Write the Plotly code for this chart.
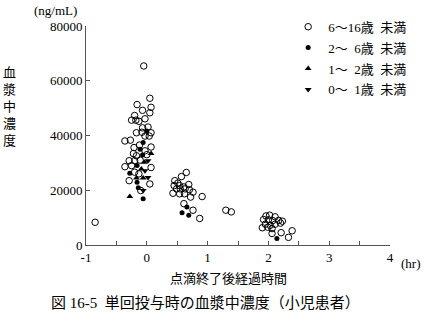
import plotly.graph_objects as go

# ---- data (hours after end of infusion, plasma concentration ng/mL) ----
g1_x = [-0.85, -0.05, 0.05, -0.16, 0.07, -0.07, 0.05, -0.20, -0.25, -0.18, -0.13, -0.03,
        0.02, -0.07, -0.17, -0.08, 0.07, -0.03, 0.04, -0.36, -0.27, 0.07, -0.21, -0.03,
        -0.22, -0.17, -0.29, -0.20, -0.11, -0.36, -0.25, 0.07, -0.20, -0.13, -0.29, 0.05,
        -0.10, -0.12, 0.00,
        0.65, 0.57, 0.46, 0.51, 0.45, 0.54, 0.61, 0.69, 0.49, 0.55, 0.63, 0.70, 0.43,
        0.54, 0.62, 0.76, 0.72, 0.91, 0.61, 0.76, 0.87, 1.30, 1.39,
        1.96, 2.02, 2.11, 1.92, 2.00, 2.07, 2.17, 2.23, 1.95, 2.03, 2.11, 2.20, 1.90,
        1.99, 2.06, 2.06, 2.21, 2.39, 2.33]
g1_y = [8300, 65400, 53600, 51300, 50300, 49200, 48300, 47300, 45600, 45600, 45200, 46100,
        43100, 42800, 41000, 41200, 41000, 39800, 39800, 38000, 38300, 35800, 35600, 34400,
        33400, 32600, 30800, 30800, 31000, 28600, 29000, 28300, 26600, 26000, 23500, 22300,
        19900, 36500, 33000,
        26500, 25000, 23500, 22600, 21700, 21700, 21200, 22100, 20500, 20500, 20500, 20200, 18900,
        18700, 18700, 19300, 17500, 17700, 15100, 12700, 9700, 12700, 12100,
        10600, 10900, 10300, 9300, 9200, 8900, 9000, 8700, 7600, 7200, 7600, 8000, 6300,
        6500, 6000, 4200, 4500, 5200, 2800]

g2_x = [0.00, -0.06, -0.11, -0.07, -0.16, -0.28, -0.16, -0.14, -0.06, 0.66, 0.58, 0.69, 2.14]
g2_y = [41600, 37400, 35000, 32900, 29000, 26200, 22900, 20900, 16900, 13900, 11800, 10900, 2400]

g3_x = [0.07, -0.04, -0.09, -0.17, -0.06, -0.28]
g3_y = [33400, 30200, 27800, 24500, 24500, 17700]

g4_x = [0.02, -0.03, 0.02, -0.06]
g4_y = [30800, 27100, 24700, 19900]

names = ["6～16歳  未満", "2～  6歳  未満", "1～  2歳  未満", "0～  1歳  未満"]
x_ticks = [-1, 0, 1, 2, 3, 4]
y_ticks = [0, 20000, 40000, 60000, 80000]

FONT = "Liberation Serif, DejaVu Serif, Noto Sans CJK JP"

fig = go.Figure()
fig.add_trace(go.Scatter(x=g1_x, y=g1_y, mode="markers", name=names[0], legendgroup="a",
                         marker=dict(symbol="circle-open", size=6.5, color="black",
                                     line=dict(width=1, color="black"))))
fig.add_trace(go.Scatter(x=g2_x, y=g2_y, mode="markers", name=names[1], legendgroup="b",
                         marker=dict(symbol="circle", size=5, color="black")))
fig.add_trace(go.Scatter(x=g3_x, y=g3_y, mode="markers", name=names[2], legendgroup="c",
                         marker=dict(symbol="triangle-up", size=6, color="black")))
fig.add_trace(go.Scatter(x=g4_x, y=g4_y, mode="markers", name=names[3], legendgroup="d",
                         marker=dict(symbol="triangle-down", size=6, color="black")))

axis_color = "#555555"
fig.update_layout(
    width=424, height=324,
    margin=dict(l=86, r=33, t=24, b=79),
    paper_bgcolor="white", plot_bgcolor="white",
    font=dict(family=FONT, size=13, color="black"),
    showlegend=True,
    legend=dict(x=0.665, y=1.065, xanchor="left", yanchor="top",
                bgcolor="rgba(0,0,0,0)", font=dict(size=13, family=FONT),
                tracegroupgap=1, itemsizing="trace"),
    xaxis=dict(range=[-1, 4], tickvals=x_ticks, ticktext=[str(v) for v in x_ticks],
               showgrid=False, zeroline=False, showline=True, linecolor=axis_color, linewidth=1,
               ticks="inside", ticklen=4, tickcolor=axis_color,
               minor=dict(dtick=0.5, ticks="inside", ticklen=4, tickcolor=axis_color, showgrid=False),
               tickfont=dict(size=13)),
    yaxis=dict(range=[0, 80000], tickvals=y_ticks, ticktext=[str(v) for v in y_ticks],
               showgrid=False, zeroline=False, showline=True, linecolor=axis_color, linewidth=1,
               ticks="inside", ticklen=4, tickcolor=axis_color, tickfont=dict(size=13)),
)

def px_x(p):
    return (p - 86) / 305

def px_y(p):
    return (245 - p) / 221

ann = [
    dict(text="(ng/mL)", x=px_x(55), y=px_y(8)),
    dict(text="(hr)", x=px_x(412), y=px_y(264)),
    dict(text="血<br>漿<br>中<br>濃<br>度", x=px_x(9), y=px_y(105)),
    dict(text="点滴終了後経過時間", x=px_x(229), y=px_y(279)),
    dict(text="図 16-5  単回投与時の血漿中濃度（小児患者）", x=px_x(206), y=px_y(304), size=15),
]
for a in ann:
    fig.add_annotation(text=a["text"], x=a["x"], y=a["y"], xref="paper", yref="paper",
                       showarrow=False, xanchor="center", yanchor="middle",
                       font=dict(size=a.get("size", 13), family=FONT, color="black"))

fig.write_html("out.html")
